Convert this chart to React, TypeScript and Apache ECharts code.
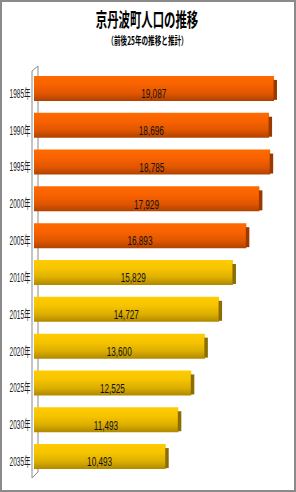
import React, { useEffect, useRef } from "react";
import * as echarts from "echarts";

const title = "京丹波町人口の推移";
const subtitle = "（前後25年の推移と推計）";
const categories = ["1985年", "1990年", "1995年", "2000年", "2005年", "2010年", "2015年", "2020年", "2025年", "2030年", "2035年"];
const population = [19087, 18696, 18785, 17929, 16893, 15829, 14727, 13600, 12525, 11493, 10493];
const kinds = ["実績", "実績", "実績", "実績", "実績", "推計", "推計", "推計", "推計", "推計", "推計"];

const palette: Record<string, { top: string; mid: string; low: string; bottom: string; cap: string }> = {
  実績: { top: "#FF6A00", mid: "#F86200", low: "#E05600", bottom: "#B04200", cap: "#9A3A00" },
  推計: { top: "#FFCC00", mid: "#F6C400", low: "#DCAE00", bottom: "#B08800", cap: "#8A6C00" },
};

export default function App() {
  const ref = useRef<HTMLDivElement>(null);
  useEffect(() => {
    if (!ref.current) return;
    const chart = echarts.init(ref.current, null, { renderer: "svg" });
    const gray = "#8a8a8a";
    chart.setOption({
      animation: false,
      backgroundColor: "#ffffff",
      grid: { left: 33.5, right: 10.5, top: 70, bottom: 17 },
      xAxis: { type: "value", min: 0, max: 20000, show: false },
      yAxis: {
        type: "category",
        data: categories,
        inverse: true,
        axisLine: { show: false },
        axisTick: { show: false },
        axisLabel: { show: false },
        splitLine: { show: false },
      },
      graphic: [
        { type: "rect", shape: { x: 1, y: 1, width: 294, height: 490 }, style: { fill: "none", stroke: gray, lineWidth: 2 }, silent: true },
        { type: "line", shape: { x1: 32, y1: 71, x2: 38, y2: 66 }, style: { stroke: gray, lineWidth: 1 } },
        { type: "line", shape: { x1: 32, y1: 71, x2: 32, y2: 478 }, style: { stroke: gray, lineWidth: 1 } },
        { type: "line", shape: { x1: 38, y1: 66, x2: 38, y2: 472 }, style: { stroke: gray, lineWidth: 1 } },
        { type: "line", shape: { x1: 32, y1: 478, x2: 38, y2: 472 }, style: { stroke: gray, lineWidth: 1 } },
        {
          type: "text",
          x: 147,
          y: 19,
          scaleX: 0.6,
          style: {
            text: title,
            fontSize: 19,
            fontWeight: "bold",
            fontFamily: "Noto Sans CJK JP",
            fill: "#000",
            textAlign: "center",
            textVerticalAlign: "middle",
          },
        },
        {
          type: "text",
          x: 147.5,
          y: 40,
          scaleX: 0.6,
          style: {
            text: subtitle,
            fontSize: 11,
            fontWeight: "bold",
            fontFamily: "Noto Sans CJK JP",
            fill: "#000",
            textAlign: "center",
            textVerticalAlign: "middle",
          },
        },
      ],
      series: [
        {
          type: "custom",
          encode: { x: 0, y: 1 },
          data: population.map((v, i) => [v, i]),
          renderItem: (params: any, api: any) => {
            const v = api.value(0);
            const idx = api.value(1);
            const start = api.coord([0, idx]);
            const end = api.coord([v, idx]);
            const h = 25;
            const y0 = end[1] - h / 2;
            const c = palette[kinds[params.dataIndex]];
            const grad = new echarts.graphic.LinearGradient(0, 0, 0, 1, [
              { offset: 0, color: c.top },
              { offset: 0.35, color: c.mid },
              { offset: 0.7, color: c.low },
              { offset: 1, color: c.bottom },
            ]);
            return {
              type: "group",
              children: [
                {
                  type: "rect",
                  shape: { x: start[0] + 0.5, y: y0, width: end[0] - start[0] - 0.5, height: h },
                  style: { fill: grad },
                },
                {
                  type: "rect",
                  shape: { x: end[0] - 0.5, y: y0 + 4, width: 3.5, height: h - 5 },
                  style: { fill: c.cap },
                },
                {
                  type: "text",
                  x: (start[0] + end[0]) / 2,
                  y: end[1] + 5,
                  scaleX: 0.63,
                  style: {
                    text: v.toLocaleString("en-US"),
                    fontSize: 13,
                    fontFamily: "Liberation Sans",
                    fill: "#111",
                    textAlign: "center",
                    textVerticalAlign: "middle",
                  },
                },
                {
                  type: "text",
                  x: start[0] - 3,
                  y: end[1] + 5,
                  scaleX: 0.5,
                  style: {
                    text: categories[params.dataIndex],
                    fontSize: 13,
                    fontFamily: "Liberation Sans, Noto Sans CJK JP",
                    fill: "#222",
                    textAlign: "right",
                    textVerticalAlign: "middle",
                  },
                },
              ],
            };
          },
        },
      ],
    });
    return () => chart.dispose();
  }, []);
  return <div ref={ref} style={{ position: "absolute", left: 0, top: 0, width: 296, height: 492 }} />;
}
